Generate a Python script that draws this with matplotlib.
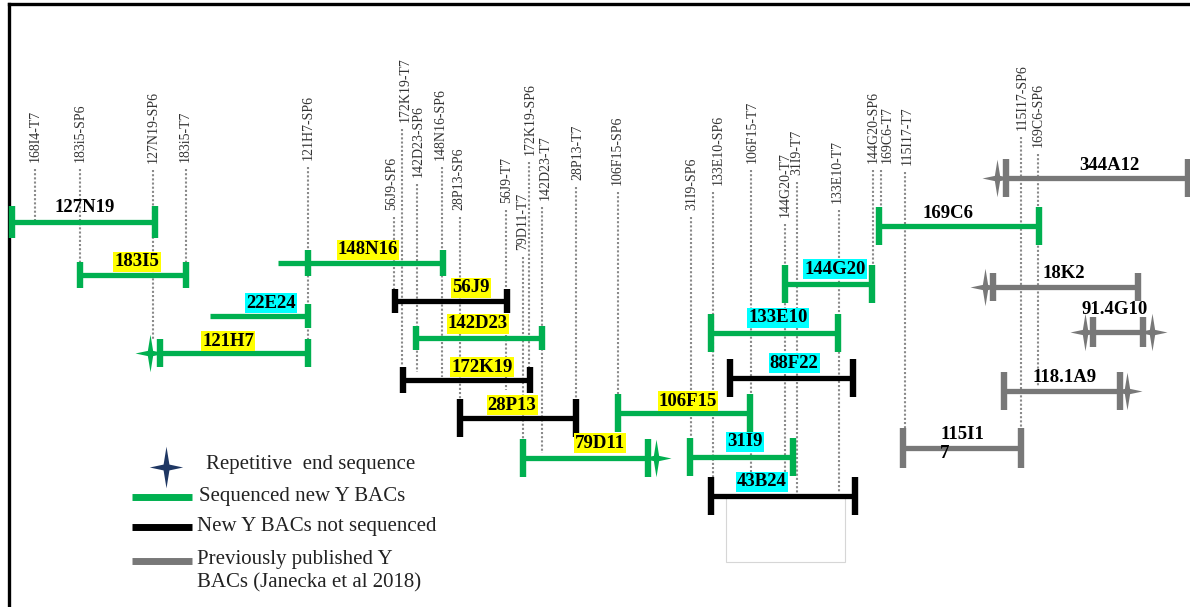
import matplotlib
matplotlib.use('Agg')
import matplotlib.pyplot as plt
from matplotlib.path import Path
from matplotlib.patches import Rectangle

plt.rcParams['font.family'] = ['Liberation Serif', 'DejaVu Serif']

# end-sequence markers (dotted guide lines with rotated names)
marker_names = ['168I4-T7', '183i5-SP6', '127N19-SP6', '183i5-T7', '121H7-SP6',
                '56J9-SP6', '172K19-T7', '142D23-SP6', '148N16-SP6', '28P13-SP6',
                '56J9-T7', '79D11-T7', '172K19-SP6', '142D23-T7', '28P13-T7',
                '106F15-SP6', '31I9-SP6', '133E10-SP6', '106F15-T7', '144G20-T7',
                '31I9-T7', '133E10-T7', '144G20-SP6', '169C6-T7', '115I17-T7',
                '115I17-SP6', '169C6-SP6']
marker_x = [35, 80, 153, 186, 308, 394, 402, 417, 442, 460, 506, 523, 529, 542, 576,
            618, 691, 713, 751, 785, 797, 839, 873, 881, 905, 1021, 1038]
marker_text_x = [35, 80, 153, 185, 308, 392, 405, 418, 440, 459, 507, 523, 530, 545, 578,
                 617, 692, 718, 752, 785, 797, 837, 873, 887, 907, 1022, 1038]
marker_label_end = [162, 162, 163, 162, 160, 210, 122, 177, 160, 210, 203, 250, 155, 200, 180,
                    185, 210, 185, 163, 217, 175, 203, 163, 163, 165, 130, 147]
marker_line_end = [222, 262, 340, 262, 340, 290, 366, 372, 377, 400, 390, 440, 367, 453, 453,
                   395, 437, 477, 480, 480, 493, 493, 265, 208, 430, 430, 387]

# BAC clones
bac_names = ['127N19', '183I5', '148N16', '22E24', '121H7', '56J9', '142D23', '172K19',
             '28P13', '79D11', '106F15', '144G20', '133E10', '88F22', '31I9', '43B24',
             '169C6', '344A12', '18K2', '91.4G10', '118.1A9', '115I1\n7']
bac_kind = ['seq', 'seq', 'seq', 'seq', 'seq', 'new', 'seq', 'new',
            'new', 'seq', 'seq', 'seq', 'seq', 'new', 'seq', 'new',
            'seq', 'pub', 'pub', 'pub', 'pub', 'pub']
bac_row = [222, 275, 263, 316, 353, 301, 338, 380, 418, 458, 413, 284, 333, 378, 457, 496,
           226, 178, 287, 332, 391, 448]
bac_start = [12, 80, 278, 210, 160, 395, 416, 403, 460, 523, 618, 785, 711, 730, 690, 711,
             879, 1006, 993, 1093, 1004, 903]
bac_end = [155, 186, 443, 308, 308, 507, 542, 530, 576, 648, 750, 872, 838, 853, 793, 855,
           1039, 1188, 1138, 1143, 1120, 1021]
bac_ticks = [None] * len(bac_names)
bac_ticks[2] = [308, 443]
bac_ticks[3] = [308]
bac_highlight = [None, 'yellow', 'yellow', 'cyan', 'yellow', 'yellow', 'yellow', 'yellow',
                 'yellow', 'yellow', 'yellow', 'cyan', 'cyan', 'cyan', 'cyan', 'cyan',
                 None, None, None, None, None, None]
label_x = [85, 137, 368, 271, 228, 471, 478, 482, 512, 600, 688, 835, 778, 794, 745, 762,
           948, 1109, 1064, 1115, 1065, 940]
label_y = [208, 262, 250, 303, 341, 288, 324, 367, 405, 443, 401, 269, 318, 363, 442, 482,
           213, 166, 273, 310, 377, 444]
tick_half = [16, 13, 13, 12, 14, 12, 12, 13, 19, 19, 19, 19, 19, 19, 19, 19,
             19, 19, 14, 15, 19, 20]

# repetitive end sequences: (bac, x)
star_bac = ['121H7', '79D11', '344A12', '18K2', '91.4G10', '91.4G10', '118.1A9']
star_x = [150, 656, 997, 985, 1085, 1152, 1127]

legend_labels = ['Repetitive  end sequence', 'Sequenced new Y BACs',
                 'New Y BACs not sequenced', 'Previously published Y\nBACs (Janecka et al 2018)']

colors = {'seq': '#00B050', 'new': '#000000', 'pub': '#787878'}

star_path = Path([(0, 1), (0.14, 0.14), (0.8, 0), (0.14, -0.14), (0, -1),
                  (-0.14, -0.14), (-0.8, 0), (-0.14, 0.14), (0, 1)],
                 [Path.MOVETO] + [Path.LINETO] * 7 + [Path.CLOSEPOLY])

fig = plt.figure(figsize=(11.9, 6.07), dpi=100)
ax = fig.add_axes([0, 0, 1, 1])
ax.set_xlim(0, 1190)
ax.set_ylim(607, 0)
ax.axis('off')

# frame
ax.plot([9, 9], [4, 607], color='black', lw=2.4, solid_capstyle='projecting')
ax.plot([9, 1190], [4, 4], color='black', lw=2.4, solid_capstyle='projecting')

# guide lines + names
for name, x, tx, lab_end, line_end in zip(marker_names, marker_x, marker_text_x,
                                           marker_label_end, marker_line_end):
    ax.vlines(x, lab_end + 7, line_end, color='#8a8a8a', lw=1.5,
              linestyles=(0, (1, 1)), zorder=1)
    ax.text(tx, lab_end, name, rotation=90, ha='center', va='bottom',
            fontsize=10, color='#333333')

# light box under 43B24
ax.add_patch(Rectangle((726, 497), 119, 65, fill=False, ec='#d6d6d6', lw=0.8, zorder=0))

# bars
for i, name in enumerate(bac_names):
    c = colors[bac_kind[i]]
    y = bac_row[i]
    ax.hlines(y, bac_start[i], bac_end[i], color=c, lw=3.8, capstyle='butt', zorder=2)
    ticks = bac_ticks[i] if bac_ticks[i] is not None else [bac_start[i], bac_end[i]]
    ax.vlines(ticks, y - tick_half[i], y + tick_half[i], color=c, lw=4.6,
              capstyle='butt', zorder=2)
    box = None
    if bac_highlight[i]:
        box = dict(boxstyle='square,pad=0.06', fc=bac_highlight[i], ec='none')
    if '\n' in name:
        ax.text(label_x[i], label_y[i], name, ha='left', va='center', fontsize=13.5,
                fontweight='bold', linespacing=1.15, zorder=3)
    else:
        ax.text(label_x[i], label_y[i], name, ha='center', va='center', fontsize=13.5,
                fontweight='bold', bbox=box, zorder=3)

for b, x in zip(star_bac, star_x):
    i = bac_names.index(b)
    ax.plot(x, bac_row[i], marker=star_path, markersize=27, color=colors[bac_kind[i]],
            markeredgewidth=0, zorder=3)

# legend
ax.plot(166, 467, marker=star_path, markersize=30, color='#1F3763', markeredgewidth=0)
ax.text(206, 465, legend_labels[0], ha='left', va='center', fontsize=15, color='#222222')
for yy, kind, lab, x0 in zip([497, 527, 561], ['seq', 'new', 'pub'], legend_labels[1:],
                             [199, 197, 197]):
    ax.hlines(yy, 132, 192, color=colors[kind], lw=5, capstyle='butt')
    if '\n' in lab:
        ax.text(x0, 571, lab, ha='left', va='center', fontsize=15, color='#222222',
                linespacing=1.3)
    else:
        ax.text(x0, yy, lab, ha='left', va='center', fontsize=15, color='#222222')

fig.savefig('out.png', dpi=100)
